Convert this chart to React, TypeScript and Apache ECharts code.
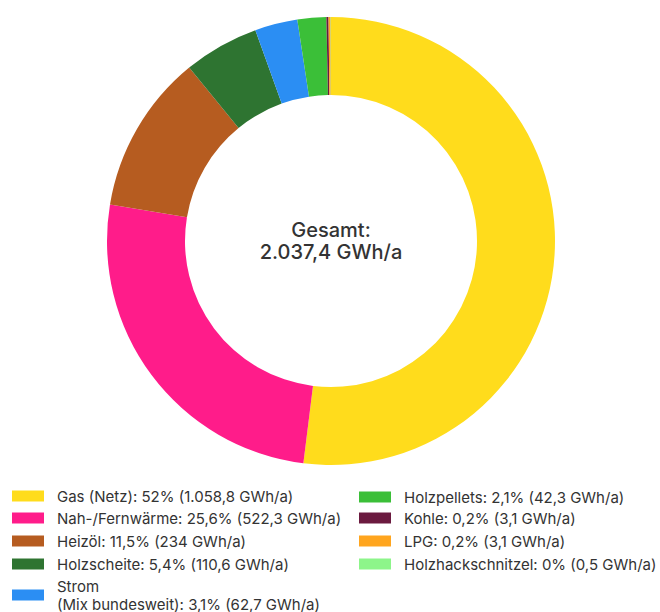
import React, { useEffect, useRef } from "react";
import * as echarts from "echarts";

const categories = [
  "Gas (Netz)",
  "Nah-/Fernwärme",
  "Heizöl",
  "Holzscheite",
  "Strom (Mix bundesweit)",
  "Holzpellets",
  "Kohle",
  "LPG",
  "Holzhackschnitzel",
];
const values = [1058.8, 522.3, 234, 110.6, 62.7, 42.3, 3.1, 3.1, 0.5];
const valueLabels = ["1.058,8", "522,3", "234", "110,6", "62,7", "42,3", "3,1", "3,1", "0,5"];
const percentLabels = ["52%", "25,6%", "11,5%", "5,4%", "3,1%", "2,1%", "0,2%", "0,2%", "0%"];
const colors = ["#FFDC1C", "#FF1C8A", "#B65C20", "#2E7431", "#2B8EF3", "#3BBF38", "#6B1A3F", "#FFA51E", "#8DF58A"];
const totalLabel = "Gesamt:\n2.037,4 GWh/a";

const FONT = "Inter";

// legend slot placement: [left, top]
const legendSlots: [number, number][] = [
  [12, 488],
  [12, 510],
  [12, 533],
  [12, 556],
  [12, 577],
  [359, 489],
  [359, 510],
  [359, 533],
  [359, 556],
];

export default function App() {
  const ref = useRef<HTMLDivElement>(null);
  useEffect(() => {
    document.body.style.margin = "0";
    const chart = echarts.init(ref.current!, null, { renderer: "svg" });
    const labelMap: Record<string, string> = {};
    categories.forEach((c, i) => {
      const shown = c === "Strom (Mix bundesweit)" ? "Strom\n(Mix bundesweit)" : c;
      labelMap[c] = `${shown}: ${percentLabels[i]} (${valueLabels[i]} GWh/a)`;
    });
    const legends = categories.map((c, i) => ({
      orient: "vertical" as const,
      icon: "rect",
      itemWidth: 32,
      itemHeight: 11,
      padding: 0,
      selectedMode: false,
      left: legendSlots[i][0],
      top: legendSlots[i][1],
      data: [c],
      formatter: (n: string) => labelMap[n],
      textStyle: {
        fontFamily: FONT,
        fontSize: 15,
        color: "#333",
        lineHeight: c === "Strom (Mix bundesweit)" ? 18 : 16,
        padding: [0, 0, 0, 8],
      },
    }));
    chart.setOption({
      animation: false,
      color: colors,
      textStyle: { fontFamily: FONT },
      legend: legends,
      graphic: [
        {
          type: "text",
          x: 331,
          y: 241,
          style: {
            text: totalLabel,
            font: `500 20px ${FONT}`,
            fill: "#333",
            textAlign: "center",
            textVerticalAlign: "middle",
            lineHeight: 22,
          },
        },
      ],
      series: [
        {
          type: "pie",
          center: [331, 241],
          radius: [146, 224],
          startAngle: 90,
          clockwise: true,
          label: { show: false },
          labelLine: { show: false },
          emphasis: { disabled: true },
          silent: true,
          data: categories.map((c, i) => ({ name: c, value: values[i] })),
        },
      ],
    });
    return () => chart.dispose();
  }, []);
  return <div ref={ref} style={{ width: 660, height: 612 }} />;
}
